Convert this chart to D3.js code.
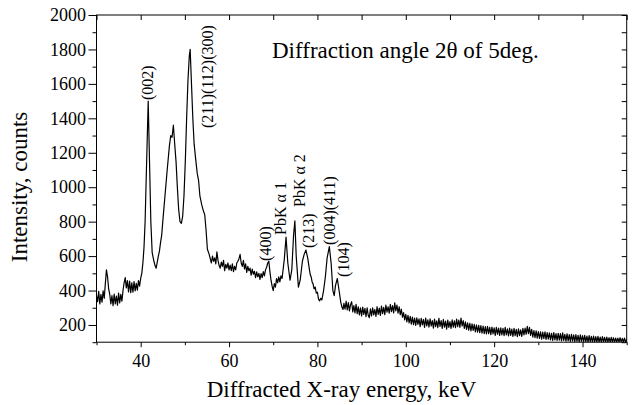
<!DOCTYPE html>
<html>
<head>
<meta charset="utf-8">
<script src="https://cdn.jsdelivr.net/npm/d3@7"></script>
<style>
  body { margin: 0; background: #fff; }
  svg { display: block; }
  text { font-family: "Liberation Serif", "Times New Roman", serif; fill: #000; }
  .axis path, .axis line { stroke: #000; stroke-width: 1; }
</style>
</head>
<body>
<div id="chart"></div>
<script>
// spectrum, [keV, counts], split in pieces
const lowEnd = [
  [30.00, 372], [30.25, 335], [30.50, 395], [30.75, 322], [31.00, 378], [31.25, 332], [31.50, 398], [31.75, 355],
  [32.00, 440], [32.25, 520], [32.50, 480], [32.75, 410], [33.00, 378], [33.25, 322], [33.50, 370], [33.75, 312],
  [34.00, 380], [34.25, 322], [34.50, 368], [34.75, 315], [35.00, 385], [35.25, 328], [35.50, 378], [35.75, 338],
  [36.00, 400], [36.25, 445], [36.50, 475], [36.75, 415], [37.00, 458], [37.25, 392], [37.50, 455], [37.75, 388],
  [38.00, 445], [38.25, 390], [38.50, 452], [38.75, 398], [39.00, 442], [39.25, 402], [39.50, 458], [39.75, 425],
  [40.00, 470], [40.25, 500], [40.50, 560], [40.75, 650]
];
const mainPeaks = [
  [41.0, 800], [41.4, 1200], [41.7, 1500], [42.0, 1150], [42.3, 800], [42.6, 620], [43.0, 570], [43.25, 545],
  [43.5, 530], [43.75, 565], [44.0, 600], [44.25, 630], [44.5, 680], [44.75, 720], [45.0, 800], [45.5, 950],
  [46.0, 1100], [46.5, 1240], [46.8, 1300], [47.1, 1290], [47.4, 1360], [47.7, 1250], [48.0, 1150], [48.3, 1000],
  [48.6, 870], [48.9, 800], [49.2, 790], [49.5, 830], [49.8, 950], [50.1, 1150], [50.4, 1400], [50.7, 1620],
  [51.0, 1760], [51.2, 1800], [51.5, 1600], [51.8, 1400], [52.1, 1250], [52.5, 1150], [52.8, 1080], [53.1, 1040],
  [53.4, 950], [53.8, 900], [54.1, 870], [54.5, 840], [54.8, 750], [55.1, 640], [55.5, 610]
];
const midRange = [
  [55.75, 585], [56.00, 560], [56.25, 600], [56.50, 570], [56.75, 590], [57.00, 555], [57.25, 625], [57.50, 575],
  [57.75, 545], [58.00, 530], [58.25, 565], [58.50, 540], [58.75, 575], [59.00, 515], [59.25, 552], [59.50, 530],
  [59.75, 560], [60.00, 520], [60.25, 548], [60.50, 515], [60.75, 555], [61.00, 510], [61.25, 540], [61.50, 520],
  [61.75, 560], [62.00, 570], [62.25, 585], [62.50, 610], [62.75, 560], [63.00, 540], [63.25, 575], [63.50, 525],
  [63.75, 555], [64.00, 505], [64.25, 540], [64.50, 515], [64.75, 530], [65.00, 490], [65.25, 525], [65.50, 495],
  [65.75, 512], [66.00, 475], [66.25, 508], [66.50, 480], [66.75, 500], [67.00, 465], [67.25, 498], [67.50, 475],
  [67.75, 510], [68.00, 485], [68.25, 520], [68.50, 535], [68.75, 560], [69.00, 570], [69.25, 510], [69.50, 460],
  [69.75, 425], [70.00, 400], [70.25, 440], [70.50, 420], [70.75, 470], [71.00, 445], [71.25, 480], [71.50, 450],
  [71.75, 485], [72.00, 470], [72.5, 580], [72.9, 710], [73.3, 560], [73.8, 460], [74.2, 520], [74.6, 720],
  [74.9, 805], [75.2, 600], [75.7, 420], [76.1, 460], [76.6, 570], [77.0, 610], [77.4, 635], [77.8, 590],
  [78.2, 520], [78.4, 490], [78.6, 478], [78.8, 450], [79.0, 440], [79.25, 410], [79.5, 420], [79.75, 385],
  [80.0, 390], [80.25, 350], [80.5, 340], [80.75, 355], [81.0, 345], [81.4, 400], [81.8, 480], [82.2, 590],
  [82.7, 655], [83.1, 560], [83.5, 400], [83.8, 370], [84.1, 430], [84.5, 470], [84.9, 400], [85.3, 330],
  [85.6, 300], [85.8, 290]
];
const tail = [
  [86.00, 325], [86.25, 292], [86.50, 338], [86.75, 288], [87.00, 330], [87.25, 282], [87.50, 318], [87.75, 335],
  [88.00, 276], [88.25, 312], [88.50, 270], [88.75, 320], [89.00, 266], [89.25, 305], [89.50, 258], [89.75, 300],
  [90.00, 252], [90.25, 304], [90.50, 262], [90.75, 296], [91.00, 248], [91.25, 300], [91.50, 256], [91.75, 242],
  [92.00, 294], [92.25, 252], [92.50, 300], [92.75, 258], [93.00, 290], [93.25, 250], [93.50, 306], [93.75, 262],
  [94.00, 298], [94.25, 256], [94.50, 310], [94.75, 266], [95.00, 302], [95.25, 260], [95.50, 316], [95.75, 274],
  [96.00, 306], [96.25, 268], [96.50, 320], [96.75, 278], [97.00, 312], [97.25, 270], [97.50, 328], [97.75, 282],
  [98.00, 316], [98.25, 268], [98.50, 306], [98.75, 260], [99.00, 292], [99.25, 245], [99.50, 272], [99.75, 230],
  [100.00, 262], [100.25, 218], [100.50, 256], [100.75, 212], [101.00, 250], [101.25, 205], [101.50, 246], [101.75, 202],
  [102.00, 240], [102.25, 198], [102.50, 242], [102.75, 204], [103.00, 236], [103.25, 190], [103.50, 238], [103.75, 200],
  [104.00, 232], [104.25, 186], [104.50, 240], [104.75, 195], [105.00, 230], [105.25, 188], [105.50, 236], [105.75, 194],
  [106.00, 226], [106.25, 182], [106.50, 234], [106.75, 190], [107.00, 224], [107.25, 185], [107.50, 238], [107.75, 192],
  [108.00, 226], [108.25, 180], [108.50, 232], [108.75, 188], [109.00, 222], [109.25, 176], [109.50, 228], [109.75, 186],
  [110.00, 220], [110.25, 180], [110.50, 230], [110.75, 188], [111.00, 224], [111.25, 184], [111.50, 234], [111.75, 190],
  [112.00, 228], [112.25, 186], [112.50, 240], [112.75, 194], [113.00, 226], [113.25, 180], [113.50, 218], [113.75, 174],
  [114.00, 212], [114.25, 170], [114.50, 210], [114.75, 166], [115.00, 206], [115.25, 168], [115.50, 204], [115.75, 160],
  [116.00, 200], [116.25, 158], [116.50, 198], [116.75, 156], [117.00, 196], [117.25, 152], [117.50, 194], [117.75, 150],
  [118.00, 190], [118.25, 148], [118.50, 192], [118.75, 150], [119.00, 186], [119.25, 144], [119.50, 188], [119.75, 148],
  [120.00, 184], [120.25, 140], [120.50, 186], [120.75, 146], [121.00, 182], [121.25, 140], [121.50, 184], [121.75, 142],
  [122.00, 180], [122.25, 138], [122.50, 186], [122.75, 142], [123.00, 178], [123.25, 136], [123.50, 182], [123.75, 140],
  [124.00, 176], [124.25, 134], [124.50, 180], [124.75, 138], [125.00, 174], [125.25, 132], [125.50, 178], [125.75, 138],
  [126.00, 172], [126.25, 134], [126.50, 180], [126.75, 142], [127.00, 182], [127.25, 146], [127.50, 192], [127.75, 150],
  [128.00, 186], [128.25, 140], [128.50, 174], [128.75, 130], [129.00, 168], [129.25, 126], [129.50, 166], [129.75, 124],
  [130.00, 162], [130.25, 122], [130.50, 160], [130.75, 118], [131.00, 158], [131.25, 120], [131.50, 160], [131.75, 116],
  [132.00, 156], [132.25, 118], [132.50, 154], [132.75, 114], [133.00, 152], [133.25, 110], [133.50, 156], [133.75, 114],
  [134.00, 150], [134.25, 110], [134.50, 152], [134.75, 112], [135.00, 150], [135.25, 108], [135.50, 154], [135.75, 110],
  [136.00, 146], [136.25, 106], [136.50, 148], [136.75, 108], [137.00, 144], [137.25, 104], [137.50, 146], [137.75, 106],
  [138.00, 142], [138.25, 103], [138.50, 144], [138.75, 104], [139.00, 140], [139.25, 102], [139.50, 142], [139.75, 104],
  [140.00, 138], [140.25, 102], [140.50, 140], [140.75, 102], [141.00, 136], [141.25, 101], [141.50, 138], [141.75, 102],
  [142.00, 134], [142.25, 101], [142.50, 136], [142.75, 101], [143.00, 132], [143.25, 101], [143.50, 134], [143.75, 101],
  [144.00, 130], [144.25, 101], [144.50, 132], [144.75, 101], [145.00, 128], [145.25, 101], [145.50, 130], [145.75, 101],
  [146.00, 126], [146.25, 101], [146.50, 128], [146.75, 101], [147.00, 126], [147.25, 101], [147.50, 124], [147.75, 101],
  [148.00, 124], [148.25, 101], [148.50, 126], [148.75, 101], [149.00, 122], [149.25, 101], [149.50, 124], [149.75, 101],
  [150.00, 118]
];
const spectrum = lowEnd.concat(mainPeaks, midRange, tail);

const xMajor = [40, 60, 80, 100, 120, 140];
const xMinor = [30, 50, 70, 90, 110, 130, 150];
const yMajor = [200, 400, 600, 800, 1000, 1200, 1400, 1600, 1800, 2000];
const yMinor = [100, 300, 500, 700, 900, 1100, 1300, 1500, 1700, 1900];

// peak labels: text, energy at baseline, counts where text starts
const peakNames = ["(002)", "(211)(112)(300)", "(400)", "PbK \u03b1 1", "PbK \u03b1 2", "(213)", "(004)(411)", "(104)"];
const peakEnergy = [42.8, 56.4, 69.5, 72.9, 77.2, 79.2, 84.0, 87.1];
const peakCounts = [1506, 1344, 572, 723, 885, 647, 665, 479];

const W = 632, H = 405;
const margin = {top: 15, right: 5.3, bottom: 62.8, left: 96.5};
const width = W - margin.left - margin.right,
      height = H - margin.top - margin.bottom;

const svg = d3.select("#chart").append("svg")
    .attr("width", W)
    .attr("height", H);
const g = svg.append("g")
    .attr("transform", `translate(${margin.left},${margin.top})`);

const x = d3.scaleLinear().domain([30, 150]).range([0, width]);
const y = d3.scaleLinear().domain([100, 2000]).range([height, 0]);

g.append("clipPath").attr("id", "plot")
  .append("rect").attr("width", width).attr("height", height);

// frame
g.append("rect")
    .attr("width", width).attr("height", height)
    .attr("fill", "none").attr("stroke", "#000").attr("stroke-width", 1);

// bottom axis
g.append("g").attr("class", "axis")
    .attr("transform", `translate(0,${height})`)
    .call(d3.axisBottom(x).tickValues(xMajor).tickSize(5).tickPadding(7).tickFormat(d3.format("d")))
    .call(a => a.select(".domain").remove())
    .selectAll("text").attr("font-size", 18);
g.append("g").attr("class", "axis")
    .attr("transform", `translate(0,${height})`)
    .call(d3.axisBottom(x).tickValues(xMinor).tickSize(3).tickFormat(""))
    .call(a => a.select(".domain").remove());

// left axis
g.append("g").attr("class", "axis")
    .call(d3.axisLeft(y).tickValues(yMajor).tickSize(8).tickPadding(2.5).tickFormat(d3.format("d")))
    .call(a => a.select(".domain").remove())
    .selectAll("text").attr("font-size", 18);
g.append("g").attr("class", "axis")
    .call(d3.axisLeft(y).tickValues(yMinor).tickSize(4).tickFormat(""))
    .call(a => a.select(".domain").remove());

// mirrored ticks on top and right, pointing in
g.append("g").attr("class", "axis")
    .call(d3.axisTop(x).tickValues(xMajor.concat(xMinor)).tickSize(-5).tickFormat(""))
    .call(a => a.select(".domain").remove());
g.append("g").attr("class", "axis")
    .attr("transform", `translate(${width},0)`)
    .call(d3.axisRight(y).tickValues(yMajor.concat(yMinor)).tickSize(-5).tickFormat(""))
    .call(a => a.select(".domain").remove());

// spectrum
const line = d3.line()
    .x(d => x(d[0]))
    .y(d => y(d[1]));
g.append("path")
    .datum(spectrum)
    .attr("clip-path", "url(#plot)")
    .attr("fill", "none")
    .attr("stroke", "#000")
    .attr("stroke-width", 1.2)
    .attr("stroke-linejoin", "round")
    .attr("d", line);

// peak labels
g.selectAll(".peak")
  .data(peakNames)
  .join("text")
    .attr("class", "peak")
    .attr("font-size", 16)
    .attr("transform", (d, i) => `translate(${x(peakEnergy[i])},${y(peakCounts[i])}) rotate(-90)`)
    .text(d => d);

// annotation
g.append("text")
    .attr("x", 272 - margin.left)
    .attr("y", 58 - margin.top)
    .attr("font-size", 23)
    .text("Diffraction angle 2\u03b8 of 5deg.");

// axis titles
svg.append("text")
    .attr("x", margin.left + width / 2 - 20)
    .attr("y", 397)
    .attr("text-anchor", "middle")
    .attr("font-size", 23)
    .text("Diffracted X-ray energy, keV");
svg.append("text")
    .attr("transform", "translate(27,187) rotate(-90)")
    .attr("text-anchor", "middle")
    .attr("font-size", 23)
    .text("Intensity, counts");
</script>
</body>
</html>
